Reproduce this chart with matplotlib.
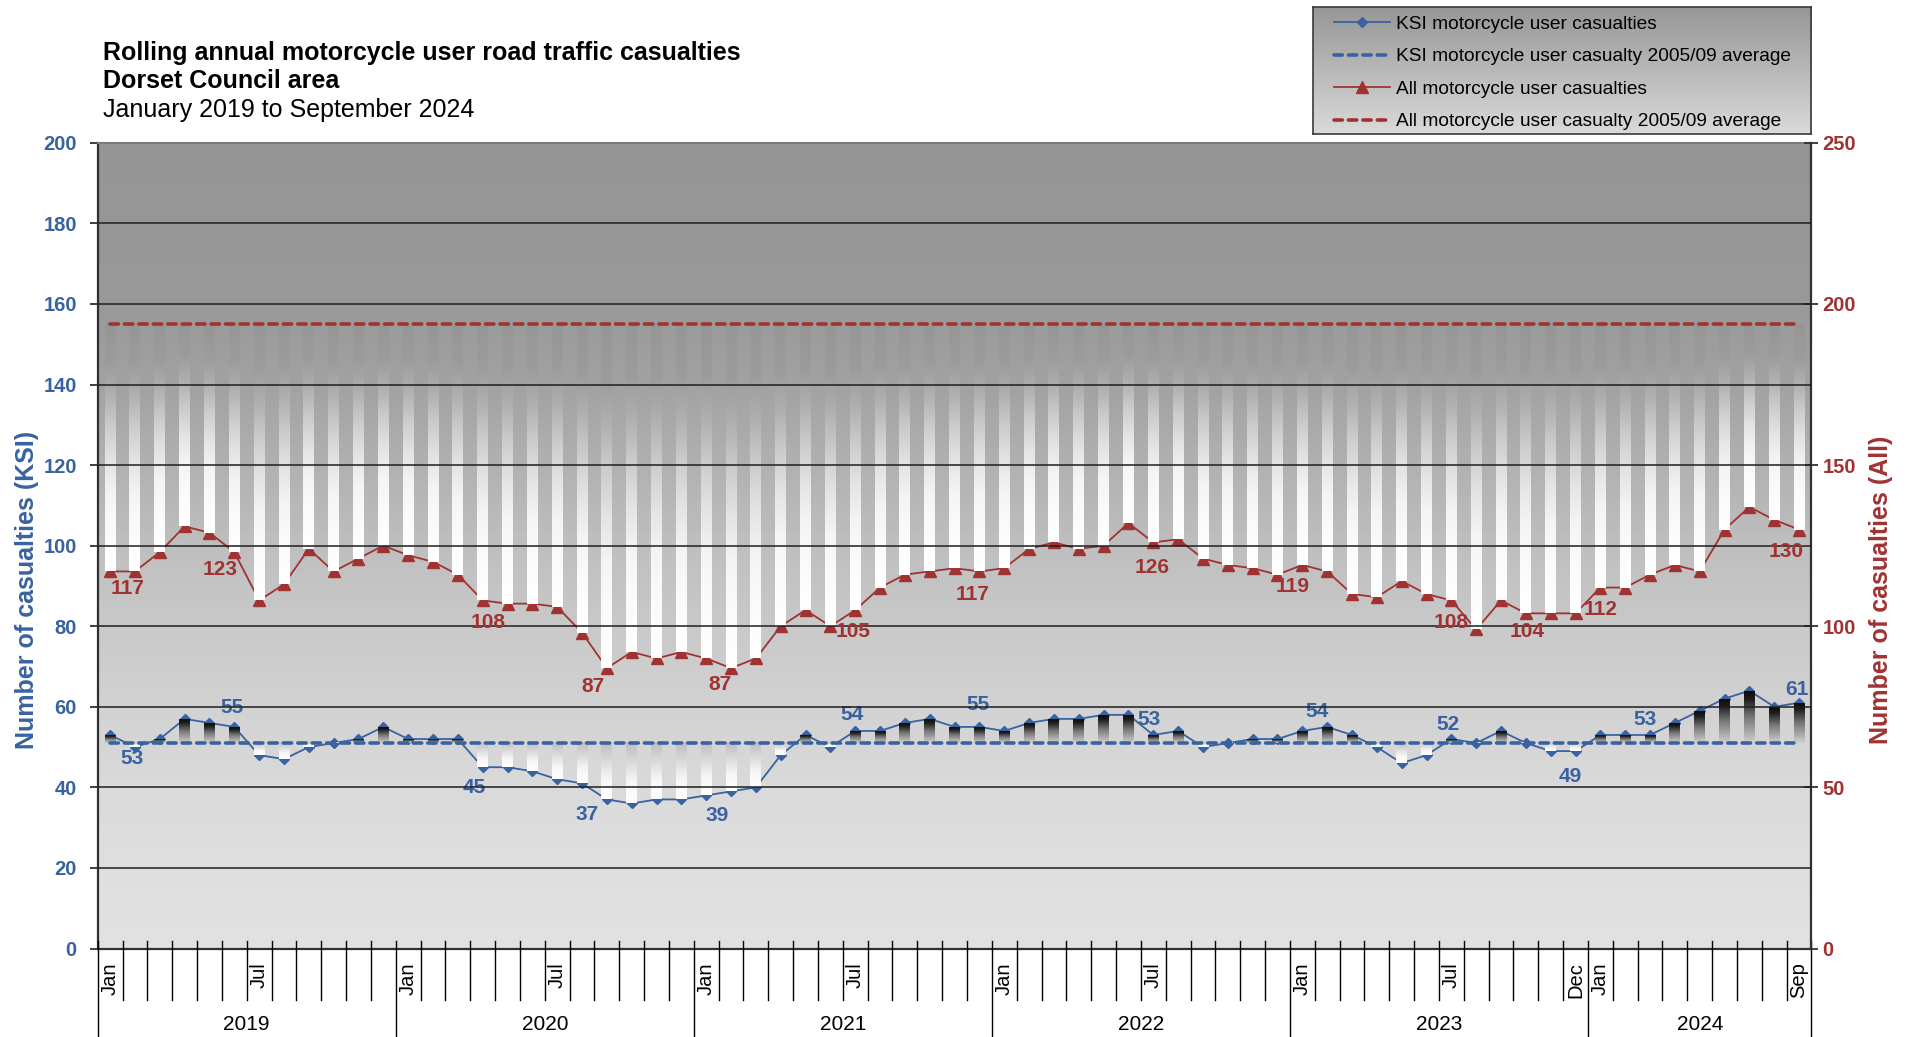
import numpy as np
import matplotlib
matplotlib.use('Agg')
import matplotlib.pyplot as plt
from matplotlib.colors import LinearSegmentedColormap
from matplotlib.lines import Line2D
from matplotlib.transforms import blended_transform_factory

plt.rcParams['font.family'] = ['Liberation Sans', 'DejaVu Sans']

# ---------------- data ----------------
years = ['2019', '2020', '2021', '2022', '2023', '2024']
months_per_year = [12, 12, 12, 12, 12, 9]
month_names = ['Jan', 'Feb', 'Mar', 'Apr', 'May', 'Jun',
               'Jul', 'Aug', 'Sep', 'Oct', 'Nov', 'Dec']
# month labels that are printed on the axis
shown_months = ['Jan 2019', 'Jul 2019', 'Jan 2020', 'Jul 2020', 'Jan 2021', 'Jul 2021',
                'Jan 2022', 'Jul 2022', 'Jan 2023', 'Jul 2023', 'Dec 2023', 'Jan 2024',
                'Sep 2024']

# rolling annual KSI motorcycle user casualties (left axis)
ksi = [53, 50, 52, 57, 56, 55, 48, 47, 50, 51, 52, 55,
       52, 52, 52, 45, 45, 44, 42, 41, 37, 36, 37, 37,
       38, 39, 40, 48, 53, 50, 54, 54, 56, 57, 55, 55,
       54, 56, 57, 57, 58, 58, 53, 54, 50, 51, 52, 52,
       54, 55, 53, 50, 46, 48, 52, 51, 54, 51, 49, 49,
       53, 53, 53, 56, 59, 62, 64, 60, 61]
# rolling annual all motorcycle user casualties (right axis)
all_cas = [117, 117, 123, 131, 129, 123, 108, 113, 124, 117, 121, 125,
           122, 120, 116, 108, 107, 107, 106, 98, 87, 92, 90, 92,
           90, 87, 90, 100, 105, 100, 105, 112, 116, 117, 118, 117,
           118, 124, 126, 124, 125, 132, 126, 127, 121, 119, 118, 116,
           119, 117, 110, 109, 114, 110, 108, 99, 108, 104, 104, 104,
           112, 112, 116, 119, 117, 130, 137, 133, 130]
ksi_avg = 51.1      # 2005/09 average
all_avg = 193.7     # 2005/09 average

# which points carry a data label
ksi_label_idx = [0, 5, 15, 20, 25, 30, 35, 42, 48, 54, 59, 62, 68]
all_label_idx = [0, 5, 15, 20, 25, 30, 35, 42, 48, 54, 57, 60, 68]

# label offsets (pixels, x right / y down)
ksi_label_off = [(22, 24), (-2, -19), (-8, 20), (-20, 15), (-14, 24), (-3, -16), (-1, -22),
                 (-4, -15), (15, -19), (-3, -15), (-5, 25), (-5, -15), (-2, -13)]
all_label_off = [(17, 17), (-14, 17), (5, 22), (-14, 18), (-11, 16), (-2, 21), (-7, 23),
                 (-1, 25), (-10, 22), (0, 22), (1, 18), (0, 22), (-13, 22)]

BLUE = '#3863A0'
RED = '#A03232'

# ---------------- figure ----------------
fig = plt.figure(figsize=(19.14, 10.37), dpi=100)
ax = fig.add_axes([0.05104, 0.08534, 0.8954, 0.77695])
ax2 = ax.twinx()

n = len(ksi)
x = np.arange(n)
ax.set_xlim(-0.5, n - 0.5)
ax.set_ylim(0, 200)
ax2.set_ylim(0, 250)

# plot area gradient
bg_cm = LinearSegmentedColormap.from_list('bg', [
    (0.0, '#e2e2e2'), (0.1, '#dfdfdf'), (0.2, '#dadada'), (0.3, '#d2d2d2'),
    (0.4, '#c9c9c9'), (0.5, '#bfbfbf'), (0.6, '#b1b1b1'), (0.7, '#a2a2a2'),
    (0.8, '#999999'), (1.0, '#959595')])
grad = np.linspace(0, 1, 256).reshape(-1, 1)
ax.imshow(grad, cmap=bg_cm, extent=(0, 1, 0, 1), transform=ax.transAxes,
          origin='lower', aspect='auto', zorder=0)

# up / down bar gradients (0 = bottom of bar, 1 = top)
up_cm = LinearSegmentedColormap.from_list('up', [
    (0.0, '#d0d0d0'), (0.5, '#777777'), (0.85, '#1c1c1c'), (1.0, '#0d0d0d')])
down_ksi_cm = LinearSegmentedColormap.from_list('dk', [
    (0.0, '#ffffff'), (0.35, '#f6f6f6'), (1.0, '#bdbdbd')])
down_all_cm = LinearSegmentedColormap.from_list('da', [
    (0.0, '#ffffff'), (0.18, '#fafafa'), (0.31, '#f4f4f4'), (0.44, '#e4e4e4'),
    (0.58, '#cccccc'), (0.71, '#b0b0b0'), (0.84, '#9c9c9c'), (1.0, '#969696')])

bw = 0.44
for i in x:
    v = ksi[i]
    if v >= ksi_avg:
        cm, lo, hi = up_cm, ksi_avg, v
    else:
        cm, lo, hi = down_ksi_cm, v, ksi_avg
    ax.imshow(grad, cmap=cm, extent=(i - bw / 2, i + bw / 2, lo, hi), origin='lower',
              aspect='auto', interpolation='bilinear', zorder=4)
    v = all_cas[i]
    if v >= all_avg:
        cm, lo, hi = up_cm, all_avg, v
    else:
        cm, lo, hi = down_all_cm, v, all_avg
    ax2.imshow(grad, cmap=cm, extent=(i - bw / 2, i + bw / 2, lo, hi), origin='lower',
               aspect='auto', interpolation='bilinear', zorder=4)

# series
ax.plot(x, ksi, color=BLUE, lw=1.3, marker='D', ms=5.5, mec=BLUE, mfc=BLUE, zorder=3)
ax.plot(x, [ksi_avg] * n, color=BLUE, lw=2.6, ls=(0, (2.3, 1.7)),
        dash_capstyle='round', zorder=5)
ax2.plot(x, all_cas, color=RED, lw=1.3, marker='^', ms=8.5, mec=RED, mfc=RED, zorder=3)
ax2.plot(x, [all_avg] * n, color=RED, lw=2.6, ls=(0, (2.3, 1.7)),
         dash_capstyle='round', zorder=5)

# gridlines (drawn on the front axes so they sit over the bars)
for t in range(20, 200, 20):
    ax2.axhline(t * 250 / 200, color='#1e1e1e', lw=1.1, zorder=4.5)

# data labels
for i, (dx, dy) in zip(ksi_label_idx, ksi_label_off):
    ax.annotate(str(ksi[i]), (i, ksi[i]), xytext=(dx * 0.72, -dy * 0.72),
                textcoords='offset points', ha='center', va='center',
                color=BLUE, fontsize=15, fontweight='bold', zorder=6)
for i, (dx, dy) in zip(all_label_idx, all_label_off):
    ax2.annotate(str(all_cas[i]), (i, all_cas[i]), xytext=(dx * 0.72, -dy * 0.72),
                 textcoords='offset points', ha='center', va='center',
                 color=RED, fontsize=15, fontweight='bold', zorder=6)

# y axes
ax.set_yticks(range(0, 201, 20))
ax.tick_params(axis='y', direction='out', length=6, width=1.3, color='#303030',
               labelcolor=BLUE, labelsize=14.5, pad=9)
for lb in ax.get_yticklabels():
    lb.set_fontweight('bold')
ax2.set_yticks(range(0, 251, 50))
ax2.tick_params(axis='y', direction='inout', length=10, width=1.3, color='#303030',
                labelcolor=RED, labelsize=14.5, pad=3)
for lb in ax2.get_yticklabels():
    lb.set_fontweight('bold')

ax.set_ylabel('Number of casualties (KSI)', color=BLUE, fontsize=18, fontweight='bold')
ax.yaxis.set_label_coords(-0.0343, 0.445)
ax2.set_ylabel('Number of casualties (All)', color=RED, fontsize=18, fontweight='bold')
ax2.yaxis.set_label_coords(1.0337, 0.445)

# spines
for s in ['left', 'bottom']:
    ax.spines[s].set_color('#303030')
    ax.spines[s].set_linewidth(1.6)
ax.spines['top'].set_color('#7a7a7a')
ax.spines['top'].set_linewidth(1.5)
ax.spines['right'].set_visible(False)
for s in ['left', 'top', 'bottom']:
    ax2.spines[s].set_visible(False)
ax2.spines['right'].set_color('#303030')
ax2.spines['right'].set_linewidth(1.6)

# category axis: month labels, month separators, year row
labels_all = []
for yr, cnt in zip(years, months_per_year):
    for m in range(cnt):
        labels_all.append(month_names[m] + ' ' + yr)
lab_idx = [labels_all.index(s) for s in shown_months]
ax.set_xticks(lab_idx, [s.split()[0] for s in shown_months], rotation=90, fontsize=14.5)
ax.tick_params(axis='x', length=0, pad=10)

tr = blended_transform_factory(ax.transData, fig.transFigure)
year_bounds = list(np.cumsum([0] + months_per_year) - 0.5)
for b in np.arange(n + 1) - 0.5:
    y_end = 0.0 if b in year_bounds else 0.0357
    ax.plot([b, b], [0.0921, y_end], transform=tr, color='black', lw=1.0,
            clip_on=False, zorder=6)
for k, yr in enumerate(years):
    mid = (year_bounds[k] + year_bounds[k + 1]) / 2
    ax.text(mid, 0.0125, yr, transform=tr, ha='center', va='center', fontsize=15)

# titles
fig.text(0.0536, 0.9421, 'Rolling annual motorcycle user road traffic casualties',
         fontsize=18, fontweight='bold', va='baseline')
fig.text(0.0536, 0.9149, 'Dorset Council area', fontsize=18, fontweight='bold', va='baseline')
fig.text(0.0536, 0.8875, 'January 2019 to September 2024', fontsize=18, va='baseline')

# legend box with gradient
lax = fig.add_axes([1312.5 / 1914, 1 - 134.3 / 1037, 498.5 / 1914, 127.6 / 1037])
leg_cm = LinearSegmentedColormap.from_list('lg', [(0, '#dadada'), (1, '#969696')])
lax.imshow(grad, cmap=leg_cm, extent=(0, 1, 0, 1), origin='lower', aspect='auto')
lax.set_xlim(0, 1)
lax.set_ylim(0, 1)
lax.set_xticks([])
lax.set_yticks([])
for s in lax.spines.values():
    s.set_color('#3a3a3a')
    s.set_linewidth(1.2)

handles = [
    Line2D([], [], color=BLUE, lw=1.3, marker='D', ms=5.5),
    Line2D([], [], color=BLUE, lw=2.6, ls=(0, (2.3, 1.7)), dash_capstyle='round'),
    Line2D([], [], color=RED, lw=1.3, marker='^', ms=8.5),
    Line2D([], [], color=RED, lw=2.6, ls=(0, (2.3, 1.7)), dash_capstyle='round'),
]
texts = ['KSI motorcycle user casualties',
         'KSI motorcycle user casualty 2005/09 average',
         'All motorcycle user casualties',
         'All motorcycle user casualty 2005/09 average']
lax.legend(handles, texts, loc='upper left', bbox_to_anchor=(0.044, 0.93),
           frameon=False, borderpad=0, borderaxespad=0, fontsize=13.75,
           handlelength=2.9, handletextpad=0.31, labelspacing=0.79)

fig.savefig('out.png', dpi=100)
